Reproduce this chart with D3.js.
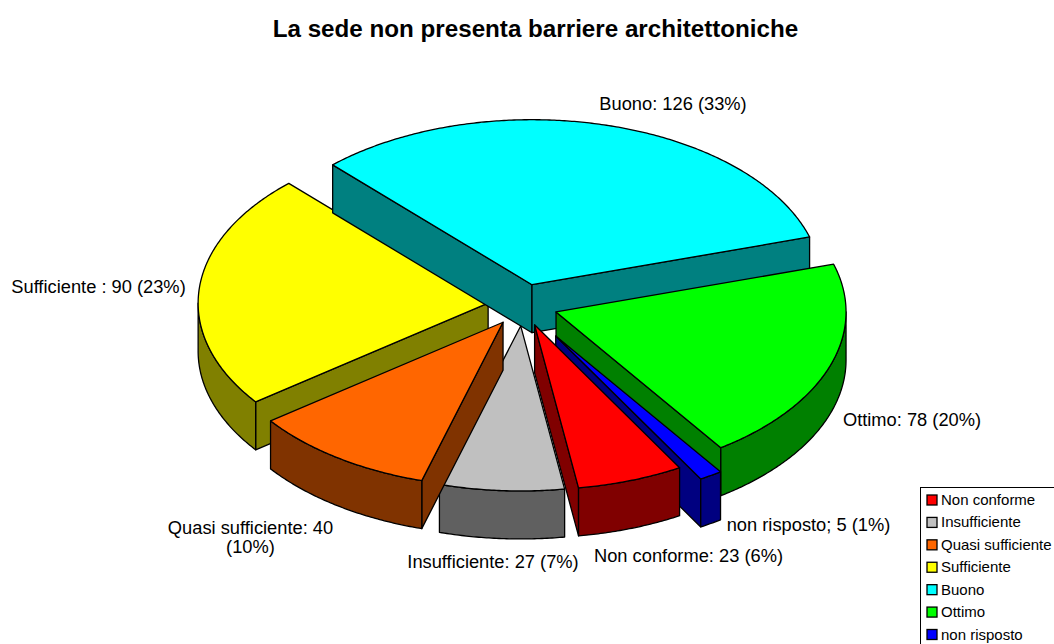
<!DOCTYPE html>
<html><head><meta charset="utf-8">
<script src="https://cdn.jsdelivr.net/npm/d3@7/dist/d3.min.js"></script>
<style>html,body{margin:0;padding:0;background:#fff;overflow:hidden}svg{display:block}text{font-family:"Liberation Sans",Arial,sans-serif;fill:#000}</style>
</head><body><svg id="c" width="1054" height="644"></svg>
<script>
const title = "La sede non presenta barriere architettoniche";
const categories = ["Non conforme","Insufficiente","Quasi sufficiente","Sufficiente","Buono","Ottimo","non risposto"];
const values = [23,27,40,90,126,78,5];
const sliceLabels = [["Non conforme: 23 (6%)"],["Insufficiente: 27 (7%)"],["Quasi sufficiente: 40","(10%)"],["Sufficiente : 90 (23%)"],["Buono: 126 (33%)"],["Ottimo: 78 (20%)"],["non risposto; 5 (1%)"]];
const colors = ["#FF0000","#C0C0C0","#FF6600","#FFFF00","#00FFFF","#00FF00","#0000FF"];
const wallColors = ["#800000","#606060","#803300","#808000","#008080","#008000","#000080"];
const explode = [1,1,1,1,1,1,1.75];
const paintOrder = ["Sufficiente","Buono","Ottimo","non risposto","Insufficiente","Non conforme","Quasi sufficiente"];
// label anchors [x of anchor, baseline y]
const labelAnchors = [[688.5,562,"middle"],[493,568,"middle"],[250.5,534,"middle"],[98.5,293,"middle"],[673,110,"middle"],[912,426,"middle"],[808.5,531,"middle"]];

const svg = d3.select("#c");
const rad = Math.PI/180;
const center = {x:523,y:305}, depth = 48, explodeX = 35, explodeY = 21;
const sx = d3.scaleLinear().domain([-1,1]).range([-290,290]);
const sy = d3.scaleLinear().domain([-1,1]).range([-165,165]);
const start = 150*rad;
const arcs = d3.pie().sort(null).startAngle(start).endAngle(start+2*Math.PI)(values);
const line = d3.line();
const rim = (c,a,dz=0)=>[c.x+sx(Math.sin(a)), c.y+sy(-Math.cos(a))+dz];
const samples = (a0,a1)=>{const n=Math.max(2,Math.ceil((a1-a0)/(0.5*rad)));return d3.range(n+1).map(i=>a0+(a1-a0)*i/n);};
const drawn = paintOrder.map(n=>categories.indexOf(n));
const g = svg.append("g").attr("stroke","#000").attr("stroke-width",1.3).attr("stroke-linejoin","round");
drawn.forEach(i=>{
  const d = arcs[i], mid=(d.startAngle+d.endAngle)/2;
  const c = {x:center.x+explodeX*explode[i]*Math.sin(mid), y:center.y-explodeY*explode[i]*Math.cos(mid)};
  const slice = g.append("g");
  const cut = a=>slice.append("path").attr("fill",wallColors[i]).attr("d",line([[c.x,c.y],rim(c,a),rim(c,a,depth),[c.x,c.y+depth]])+"Z");
  if(Math.sin(d.startAngle)<0) cut(d.startAngle);
  if(Math.sin(d.endAngle)>0) cut(d.endAngle);
  [[90,270],[450,630]].forEach(([lo,hi])=>{
    const a0=Math.max(d.startAngle,lo*rad), a1=Math.min(d.endAngle,hi*rad);
    if(a1>a0){
      const s=samples(a0,a1);
      slice.append("path").attr("fill",wallColors[i]).attr("d",line(s.map(a=>rim(c,a)).concat(s.slice().reverse().map(a=>rim(c,a,depth))))+"Z");
    }
  });
  slice.append("path").attr("fill",colors[i]).attr("d",line([[c.x,c.y]].concat(samples(d.startAngle,d.endAngle).map(a=>rim(c,a))))+"Z");
});
svg.append("text").attr("x",535.5).attr("y",37).attr("text-anchor","middle").attr("font-weight","bold").attr("font-size",24.2).text(title);
sliceLabels.forEach((ls,i)=>{
  const [x,y,anc]=labelAnchors[i];
  ls.forEach((t,k)=>svg.append("text").attr("x",x).attr("y",y+k*19).attr("text-anchor",anc).attr("font-size",18.3).text(t));
});
const lg = svg.append("g");
lg.append("rect").attr("x",920.5).attr("y",487.5).attr("width",140).attr("height",170).attr("fill","#fff").attr("stroke","#000");
const ly = d3.scalePoint().domain(categories).range([500,634.5]);
categories.forEach((n,i)=>{
  lg.append("rect").attr("x",927).attr("y",ly(n)-5).attr("width",10).attr("height",10).attr("fill",colors[i]).attr("stroke","#000").attr("stroke-width",1.3);
  lg.append("text").attr("x",941).attr("y",ly(n)+5).attr("font-size",15).text(n);
});
</script></body></html>
